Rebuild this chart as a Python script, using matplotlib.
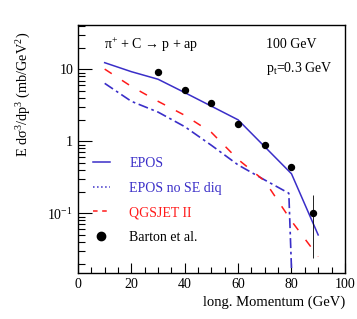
import numpy as np
import matplotlib
matplotlib.use("Agg")
import matplotlib.pyplot as plt
from matplotlib.lines import Line2D
from matplotlib.ticker import LogLocator, MultipleLocator, FixedLocator

plt.rcParams['font.family'] = ['Liberation Serif', 'DejaVu Serif']
plt.rcParams['mathtext.fontset'] = 'custom'
plt.rcParams['mathtext.rm'] = 'Liberation Serif'
plt.rcParams['mathtext.it'] = 'Liberation Serif:italic'
plt.rcParams['font.size'] = 10

# data
x_model = [10, 20, 30, 40, 50, 60, 70, 80, 90]
epos = [12.4, 9.3, 7.3, 4.76, 3.08, 1.99, 0.84, 0.354, 0.050]
qgsjet = [10.1, 5.8, 3.6, 2.3, 1.33, 0.56, 0.28, 0.078, 0.025]

x_nose = [10, 20, 30, 40, 50, 60, 70, 79, 80]
epos_nose = [6.4, 3.6, 2.55, 1.6, 0.88, 0.47, 0.29, 0.19, 0.017]

x_data = [30, 40, 50, 60, 70, 80, 88]
barton = [9.3, 5.2, 3.46, 1.73, 0.89, 0.445, 0.10]
err_lo = [0.5, 0.3, 0.2, 0.13, 0.07, 0.04, 0.076]
err_hi = [0.5, 0.3, 0.2, 0.13, 0.07, 0.04, 0.081]

blue = '#3a2ec8'
red = '#ff1a1a'

fig = plt.figure(figsize=(3.57, 3.19), dpi=100)
ax = fig.add_axes([0.2185, 0.145, 0.7475, 0.777])

ax.plot(x_model, epos, color=blue, lw=1.1)
ax.plot(x_nose, epos_nose, color=blue, lw=1.2, dashes=(6, 2.2, 1.6, 2.2))
ax.plot(x_model, qgsjet, color=red, lw=1.1, dashes=(5.5, 8))
ax.errorbar(x_data, barton, yerr=[err_lo, err_hi], fmt='o', color='black',
            ms=4.3, elinewidth=0.6, capsize=0)

ax.set_yscale('log')
ax.set_xlim(0, 100)
ax.set_ylim(0.0149, 41.6)

ax.xaxis.set_major_locator(MultipleLocator(20))
ax.xaxis.set_minor_locator(MultipleLocator(5))
ax.yaxis.set_major_locator(FixedLocator([0.1, 1, 10]))
ax.yaxis.set_minor_locator(LogLocator(base=10, subs=np.arange(2, 10)))
ax.set_yticklabels(['$10^{-1}$', '1', '10'])
ax.tick_params(which='major', direction='in', length=7, width=0.8, labelsize=10)
ax.tick_params(which='minor', direction='in', length=4, width=0.8)
ax.tick_params(axis='y', which='major', length=10)
ax.tick_params(axis='y', which='minor', length=5)
for s in ax.spines.values():
    s.set_linewidth(1.0)

ax.set_xlabel('long. Momentum (GeV)', fontsize=10.5)
ax.xaxis.set_label_coords(1.0, -0.09)
ax.xaxis.label.set_horizontalalignment('right')
ax.set_ylabel('E dσ$^{3}$/dp$^{3}$ (mb/GeV$^{2}$)', fontsize=10.3)
ax.yaxis.set_label_coords(-0.17, 0.97)
ax.yaxis.label.set_horizontalalignment('right')

ax.text(0.097, 0.92, 'π$^{+}$ + C → p + ap', transform=ax.transAxes,
        fontsize=10, va='center')
ax.text(0.703, 0.92, '100 GeV', transform=ax.transAxes, fontsize=10, va='center')
ax.text(0.703, 0.825, 'p$_{\\mathrm{t}}$=0.3 GeV', transform=ax.transAxes,
        fontsize=10, va='center')

handles = [
    Line2D([], [], color=blue, lw=1.1),
    Line2D([], [], color=blue, lw=1.1, ls=':'),
    Line2D([], [], color=red, lw=1.1, dashes=(3, 3)),
    Line2D([], [], color='black', marker='o', ls='none', ms=6),
]
labels = ['EPOS', 'EPOS no SE diq', 'QGSJET II', 'Barton et al.']
leg = ax.legend(handles, labels, loc='upper left', bbox_to_anchor=(0.055, 0.468),
                frameon=False, borderpad=0, borderaxespad=0, handlelength=1.25,
                handletextpad=1.4, labelspacing=0.85, fontsize=10)
for t, c in zip(leg.get_texts(), [blue, blue, red, 'black']):
    t.set_color(c)

fig.savefig('out.png', dpi=100)
